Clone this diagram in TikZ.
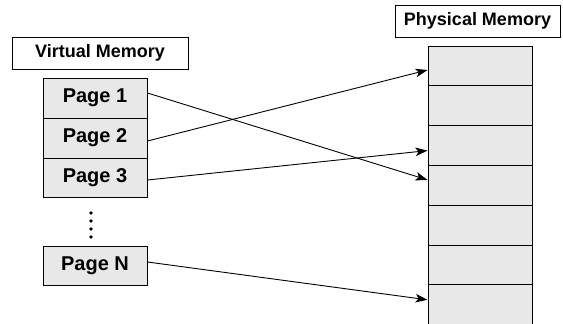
\documentclass[tikz,border=0pt]{standalone}
\usepackage{fontspec}
\setmainfont{Liberation Sans}
\usetikzlibrary{arrows.meta}
\definecolor{cellgray}{HTML}{E8E8E8}
\tikzset{
  x=1pt, y=-1pt,
  title/.style={draw=black, line width=1pt, fill=white, inner sep=0pt,
    minimum height=32pt, font=\fontsize{18}{20}\selectfont\bfseries},
  pagebox/.style={draw=black, line width=1pt, fill=cellgray, inner sep=0pt,
    minimum width=104pt, minimum height=40pt, font=\fontsize{20}{22}\selectfont\bfseries},
  cellbox/.style={draw=black, line width=1pt, fill=cellgray, inner sep=0pt,
    minimum width=104pt, minimum height=39.8pt},
  mapping/.style={draw=black, line width=0.9pt,
    -{Stealth[length=12pt, width=8.5pt, inset=3pt]}},
  vdot/.style={circle, fill=black, inner sep=0pt, minimum size=3.6pt}
}
\begin{document}
\begin{tikzpicture}
\clip (0,0) rectangle (563,324);
\fill[white] (0,0) rectangle (563,324);

% headings
\node[title, minimum width=176pt] (vm) at (100,53) {Virtual Memory};
\node[title, minimum width=165pt] (pm) at (477.5,21) {Physical Memory};

% physical frames
\foreach \i in {1,...,7}{
  \node[cellbox] (c\i) at (480,{66+39.8*(\i-1)}) {};
}

% virtual pages
\node[pagebox] (p1) at (95,98) {Page 1};
\node[pagebox] (p2) at (95,138) {Page 2};
\node[pagebox, minimum height=39pt] (p3) at (95,177.5) {Page 3};
\node[pagebox, minimum height=39pt] (pn) at (95,265.5) {Page N};

% ellipsis between page 3 and page N
\foreach \k/\yy in {1/213,2/221,3/229,4/237}{
  \node[vdot] (d\k) at (91,\yy) {};
}

% page-to-frame mappings
\draw[mapping] ([yshift=5pt]p1.east) -- ([yshift=5.5pt]c4.west);
\draw[mapping] ([yshift=-3pt]p2.east) -- ([yshift=-4pt]c1.west);
\draw[mapping] ([yshift=-2.5pt]p3.east) -- ([yshift=-5pt]c3.west);
\draw[mapping] ([yshift=3.5pt]pn.east) -- ([yshift=5pt]c7.west);
\end{tikzpicture}
\end{document}
